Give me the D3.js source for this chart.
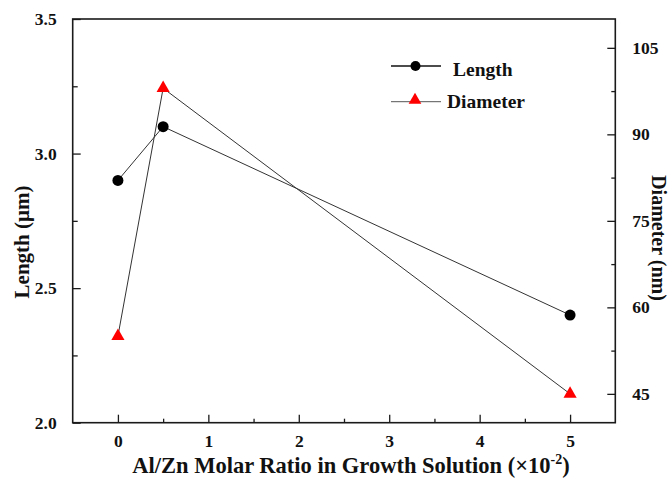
<!DOCTYPE html>
<html><head><meta charset="utf-8">
<script src="https://cdn.jsdelivr.net/npm/d3@7/dist/d3.min.js"></script>
<style>body{margin:0;background:#fff}svg{display:block}text{font-family:"Liberation Serif","Times New Roman",serif;font-weight:bold;fill:#111}</style>
</head><body><svg id="c" width="672" height="485"></svg>
<script>
const ratios = [0, 0.5, 5];
const lengthVals = [2.9, 3.1, 2.4];
const diameterVals = [55, 98, 45];
const xTicks = [0, 1, 2, 3, 4, 5];
const yLeftTicks = [2.0, 2.5, 3.0, 3.5];
const yRightTicks = [45, 60, 75, 90, 105];
const seriesNames = ["Length", "Diameter"];

const W = 672, H = 485;
const m = {l: 72.7, r: 56.7, t: 19, b: 62.3};
const svg = d3.select("#c");
const x = d3.scaleLinear().domain([-0.5, 5.5]).range([m.l, W - m.r]);
const yL = d3.scaleLinear().domain([2.0, 3.5]).range([H - m.b, m.t]);
const yR = d3.scaleLinear().domain([40, 110]).range([H - m.b, m.t]);

const ink = "#1a1a1a";
function styleAxis(g){
  g.select(".domain").remove();
  g.selectAll("line").attr("stroke", ink).attr("stroke-width", 1.3);
  g.selectAll("text").attr("font-size", 17.5).attr("fill", ink);
}
const xMinor = d3.range(-0.5, 5.51, 0.5).filter(v => !xTicks.includes(v) && v > -0.5 && v < 5.5);
svg.append("g").attr("transform", `translate(0,${H - m.b})`)
  .call(d3.axisBottom(x).tickValues(xMinor).tickSize(-4).tickFormat(""))
  .call(styleAxis);
svg.append("g").attr("transform", `translate(0,${H - m.b})`)
  .call(d3.axisBottom(x).tickValues(xTicks).tickSize(-8).tickPadding(12).tickFormat(d3.format("d")))
  .call(styleAxis);
svg.append("g").attr("transform", `translate(${m.l},0)`)
  .call(d3.axisLeft(yL).tickValues([2.25, 2.75, 3.25]).tickSize(-5).tickFormat(""))
  .call(styleAxis);
svg.append("g").attr("transform", `translate(${m.l},0)`)
  .call(d3.axisLeft(yL).tickValues(yLeftTicks).tickSize(-8).tickPadding(16).tickFormat(d3.format(".1f")))
  .call(styleAxis);
svg.append("g").attr("transform", `translate(${W - m.r},0)`)
  .call(d3.axisRight(yR).tickValues([52.5, 67.5, 82.5, 97.5]).tickSize(-4).tickFormat(""))
  .call(styleAxis);
svg.append("g").attr("transform", `translate(${W - m.r},0)`)
  .call(d3.axisRight(yR).tickValues(yRightTicks).tickSize(-8).tickPadding(17).tickFormat(d3.format("d")))
  .call(styleAxis);

svg.append("rect").attr("x", m.l).attr("y", m.t).attr("width", W - m.l - m.r).attr("height", H - m.t - m.b)
  .attr("fill", "none").attr("stroke", ink).attr("stroke-width", 1.6);

const lenLine = d3.line().x((d, i) => x(ratios[i])).y(d => yL(d));
const diaLine = d3.line().x((d, i) => x(ratios[i])).y(d => yR(d));
svg.append("path").attr("d", lenLine(lengthVals)).attr("fill", "none").attr("stroke", "#333").attr("stroke-width", 1);
svg.append("path").attr("d", diaLine(diameterVals)).attr("fill", "none").attr("stroke", "#333").attr("stroke-width", 1);

svg.selectAll(".pt").data(lengthVals).join("circle")
  .attr("cx", (d, i) => x(ratios[i])).attr("cy", d => yL(d)).attr("r", 5.5).attr("fill", "#000");
const tri = d3.symbol().type(d3.symbolTriangle).size(75);
svg.selectAll(".tr").data(diameterVals).join("path")
  .attr("d", tri).attr("transform", (d, i) => `translate(${x(ratios[i])},${yR(d)})`).attr("fill", "#ff0000");

const lg = svg.append("g");
lg.append("line").attr("x1", 391).attr("x2", 441).attr("y1", 66).attr("y2", 66).attr("stroke", "#111").attr("stroke-width", 1.5);
lg.append("circle").attr("cx", 415.5).attr("cy", 66).attr("r", 5).attr("fill", "#000");
lg.append("text").attr("x", 453).attr("y", 76).attr("font-size", 19.5).text(seriesNames[0]);
lg.append("line").attr("x1", 391).attr("x2", 441).attr("y1", 101.7).attr("y2", 101.7).attr("stroke", "#555").attr("stroke-width", 1);
lg.append("path").attr("d", d3.symbol().type(d3.symbolTriangle).size(70)).attr("transform", "translate(415,100)").attr("fill", "#ff0000");
lg.append("text").attr("x", 447).attr("y", 108).attr("font-size", 19.5).text(seriesNames[1]);

const xt = svg.append("text").attr("x", (m.l + W - m.r) / 2 + 7).attr("y", 473).attr("text-anchor", "middle").attr("font-size", 22.5);
xt.append("tspan").text("Al/Zn Molar Ratio in Growth Solution (×10");
xt.append("tspan").attr("font-size", 14).attr("dy", -9).text("-2");
xt.append("tspan").attr("dy", 9).text(")");
svg.append("text").attr("transform", "translate(29,242) rotate(-90)").attr("text-anchor", "middle").attr("font-size", 21).text("Length (μm)");
svg.append("text").attr("transform", "translate(652,238) rotate(90)").attr("text-anchor", "middle").attr("font-size", 20).text("Diameter (nm)");
</script></body></html>
